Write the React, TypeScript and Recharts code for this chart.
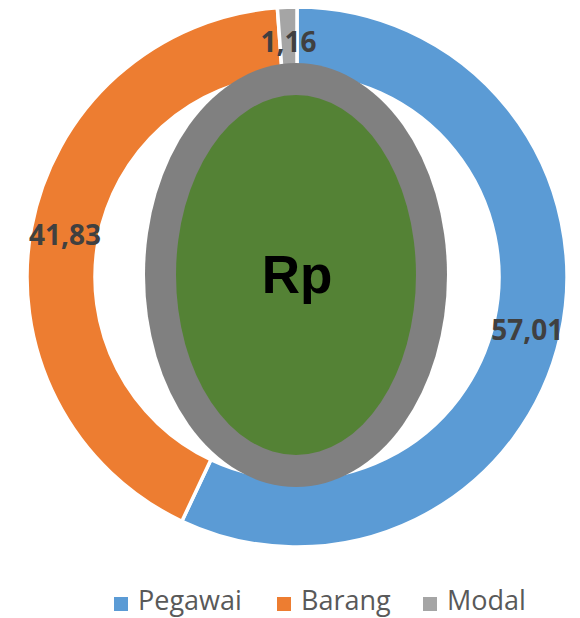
import { Pie, PieChart } from "recharts";

const categories = ["Pegawai", "Barang", "Modal"];
const shares = [57.01, 41.83, 1.16];
const colors = ["#5B9BD5", "#ED7D31", "#A5A5A5"];
const centerText = "Rp";

const chartData = categories.map((name, i) => ({ name, value: shares[i], fill: colors[i] }));

const RADIAN = Math.PI / 180;

const renderLabel = (props: any) => {
  const { cx, cy, midAngle, innerRadius, outerRadius, value } = props;
  const r = (innerRadius + outerRadius) / 2;
  const x = cx + r * Math.cos(-midAngle * RADIAN);
  const y = cy + r * Math.sin(-midAngle * RADIAN);
  return (
    <text
      x={x}
      y={y}
      textAnchor="middle"
      dominantBaseline="central"
      fill="#404040"
      fontFamily="'Open Sans', sans-serif"
      fontWeight={700}
      fontSize={28}
    >
      {value.toFixed(2).replace(".", ",")}
    </text>
  );
};

// legend item left offsets
const legendX = [114, 277, 423];

const App = () => {
  return (
    <div style={{ position: "absolute", left: 0, top: 0, width: 580, height: 618, background: "#fff" }}>
      <PieChart width={580} height={618} margin={{ top: 0, right: 0, bottom: 0, left: 0 }}>
        <Pie
          data={chartData}
          dataKey="value"
          nameKey="name"
          cx={297}
          cy={277}
          innerRadius={202}
          outerRadius={270}
          startAngle={90}
          endAngle={-270}
          stroke="#ffffff"
          strokeWidth={3.5}
          label={renderLabel}
          labelLine={false}
          isAnimationActive={false}
        />
      </PieChart>
      <svg width={580} height={618} style={{ position: "absolute", left: 0, top: 0, pointerEvents: "none" }}>
        <ellipse cx={296} cy={275} rx={151} ry={212} fill="#808080" />
        <ellipse cx={296} cy={275} rx={120} ry={180} fill="#548235" />
        <text
          x={297}
          y={293}
          textAnchor="middle"
          fill="#000"
          fontFamily="'Liberation Sans', Arial, sans-serif"
          fontWeight={700}
          fontSize={53}
        >
          {centerText}
        </text>
      </svg>
      {categories.map((name, i) => (
        <div
          key={name}
          style={{
            position: "absolute",
            left: legendX[i],
            top: 585,
            display: "flex",
            alignItems: "center",
            fontFamily: "'Open Sans', sans-serif",
            fontSize: 27,
            lineHeight: "30px",
            color: "#595959",
            whiteSpace: "nowrap",
          }}
        >
          <span
            style={{
              width: 14,
              height: 14,
              background: colors[i],
              marginRight: 10,
              display: "inline-block",
              position: "relative",
              top: 4,
            }}
          />
          <span>{name}</span>
        </div>
      ))}
    </div>
  );
};

export default App;
